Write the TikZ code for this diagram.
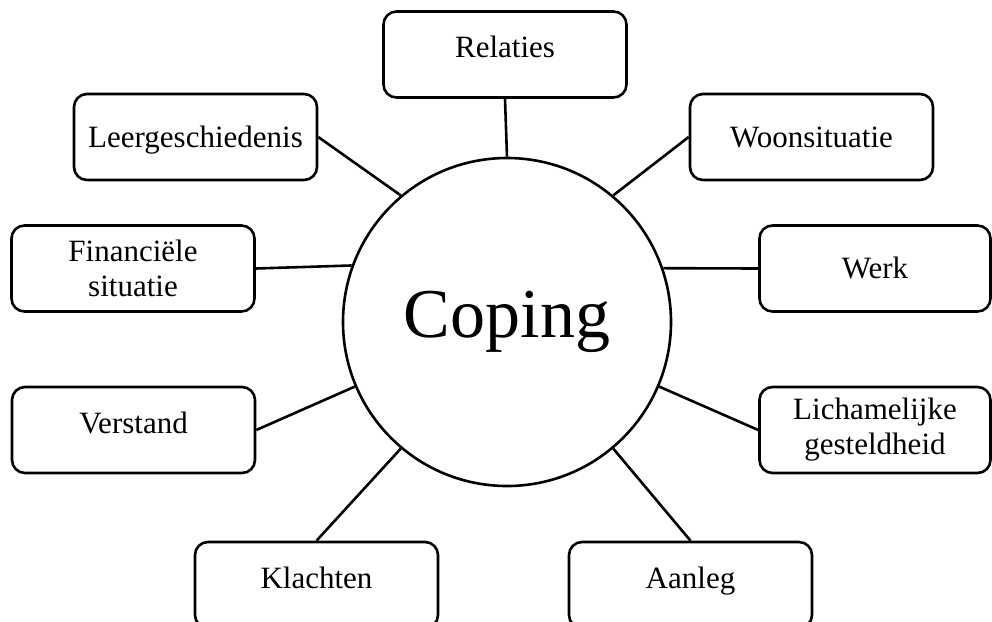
\documentclass[tikz,border=0pt]{standalone}
\usepackage{fontspec}
\setmainfont{Liberation Serif}
\usepackage{tikz}

\begin{document}
\begin{tikzpicture}[x=0.5pt, y=-0.5pt, line width=1.3pt,
    every node/.style={font=\fontsize{15.5}{17.5}\selectfont},
    box/.style={draw, rounded corners=6.5pt, minimum width=121.5pt,
                minimum height=43pt, inner sep=2pt, align=center},
    oneline/.style={text height=10.3pt, text depth=0pt},
    raised/.style={text height=10.3pt, text depth=7pt},
    hub/.style={draw, circle, minimum size=164pt, inner sep=0pt,
                font=\fontsize{35}{38}\selectfont}]
    %---- canvas (pixel grid of the reference)
    \useasboundingbox (0,0) rectangle (992,622);

    %---- centre
    \node[hub] (coping) at (507,322) {Coping};

    %---- boxes round the centre
    \node[box,raised]  (relaties) at (505,54.5)  {Relaties};
    \node[box,oneline] (leer)     at (195.5,137) {Leergeschiedenis};
    \node[box,oneline] (woon)     at (811.5,137) {Woonsituatie};
    \node[box]         (fin)      at (133,268.5) {Financiële\\situatie};
    \node[box,oneline,minimum width=115.5pt] (werk) at (875,268.5) {Werk};
    \node[box,raised]  (verstand) at (133.5,430) {Verstand};
    \node[box,minimum width=115.5pt] (lich) at (875,430) {Lichamelijke\\gesteldheid};
    \node[box,raised]  (klachten) at (316.5,585) {Klachten};
    \node[box,raised]  (aanleg)   at (690.5,585) {Aanleg};

    %---- spokes
    \draw (relaties.south) -- (coping.90.7);
    \draw (leer.east)      -- (coping.130.6);
    \draw (woon.west)      -- (coping.50);
    \draw (fin.east)       -- (coping.160.8);
    \draw (werk.west)      -- (coping.19.2);
    \draw (verstand.east)  -- (coping.203.5);
    \draw (lich.west)      -- (coping.-23.6);
    \draw (klachten.north) -- (coping.230.6);
    \draw (aanleg.north)   -- (coping.-50.6);
\end{tikzpicture}
\end{document}
